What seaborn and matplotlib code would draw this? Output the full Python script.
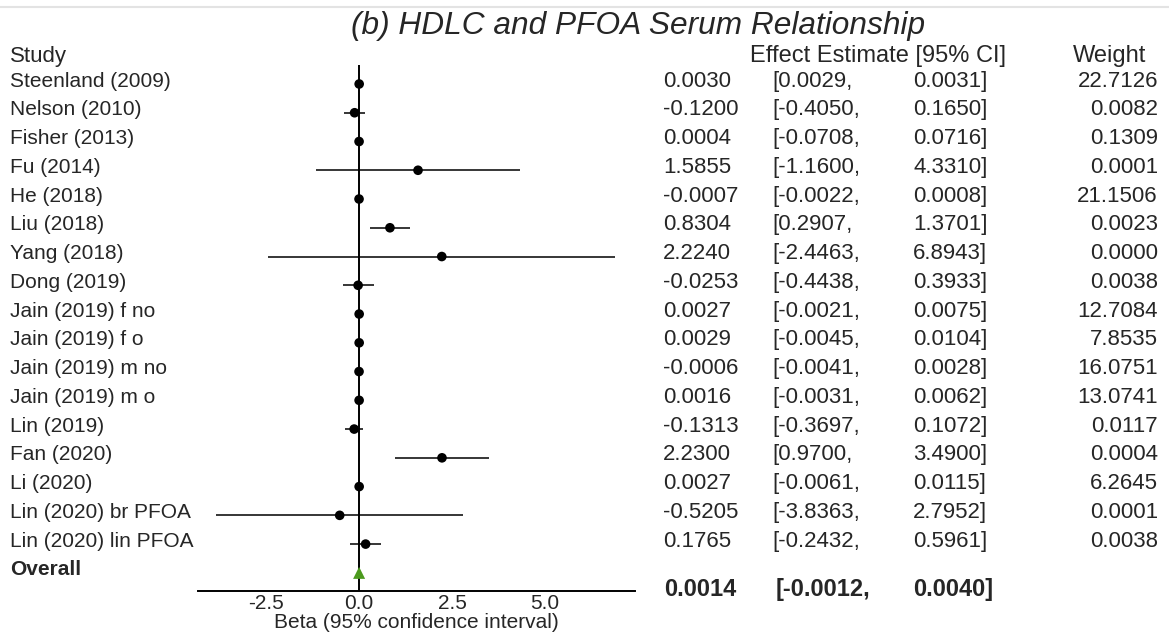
import pandas as pd
import matplotlib.pyplot as plt
import matplotlib.transforms as mtransforms
from matplotlib.lines import Line2D
import seaborn as sns

# data
studies = ['Steenland (2009)', 'Nelson (2010)', 'Fisher (2013)', 'Fu (2014)', 'He (2018)',
           'Liu (2018)', 'Yang (2018)', 'Dong (2019)', 'Jain (2019) f no', 'Jain (2019) f o',
           'Jain (2019) m no', 'Jain (2019) m o', 'Lin (2019)', 'Fan (2020)', 'Li (2020)',
           'Lin (2020) br PFOA', 'Lin (2020) lin PFOA']
est = [0.0030, -0.1200, 0.0004, 1.5855, -0.0007, 0.8304, 2.2240, -0.0253, 0.0027, 0.0029,
       -0.0006, 0.0016, -0.1313, 2.2300, 0.0027, -0.5205, 0.1765]
lower = [0.0029, -0.4050, -0.0708, -1.1600, -0.0022, 0.2907, -2.4463, -0.4438, -0.0021, -0.0045,
         -0.0041, -0.0031, -0.3697, 0.9700, -0.0061, -3.8363, -0.2432]
upper = [0.0031, 0.1650, 0.0716, 4.3310, 0.0008, 1.3701, 6.8943, 0.3933, 0.0075, 0.0104,
         0.0028, 0.0062, 0.1072, 3.4900, 0.0115, 2.7952, 0.5961]
weight = [22.7126, 0.0082, 0.1309, 0.0001, 21.1506, 0.0023, 0.0000, 0.0038, 12.7084, 7.8535,
          16.0751, 13.0741, 0.0117, 0.0004, 6.2645, 0.0001, 0.0038]
overall_est, overall_lo, overall_hi = 0.0014, -0.0012, 0.0040
x_ticks = [-2.5, 0.0, 2.5, 5.0]

df = pd.DataFrame({'study': studies, 'est': est, 'lo': lower, 'hi': upper, 'w': weight})
df['row'] = range(len(df))
n = len(df)

sns.set_theme(style="white")
plt.rcParams['font.family'] = ['Liberation Sans', 'DejaVu Sans']

fig = plt.figure(figsize=(11.69, 6.33), dpi=100)
ax = fig.add_axes([0.1694, 0.0664, 0.3738, 0.8309])

# confidence intervals + points
ax.hlines(df['row'], df['lo'], df['hi'], color='black', linewidth=1.1, zorder=2)
sns.scatterplot(data=df, x='est', y='row', color='black', s=48, edgecolor='none', ax=ax, zorder=3)
sns.scatterplot(x=[overall_est], y=[n], marker='^', color='#4c9a1e', s=75, edgecolor='none',
                ax=ax, zorder=3)
ax.axvline(0, color='black', linewidth=1.4, zorder=1)

ax.set_xlim(-4.33, 7.42)
ax.set_ylim(17.63, -0.66)
ax.set_xticks(x_ticks)
ax.set_xticklabels([f'{t:.1f}' for t in x_ticks], fontsize=15)
ax.set_yticks([])
ax.tick_params(axis='x', length=0, pad=2)
ax.set_xlabel('Beta (95% confidence interval)', fontsize=15, labelpad=0)
ax.set_ylabel('')
for s in ['top', 'left', 'right']:
    ax.spines[s].set_visible(False)
ax.spines['bottom'].set_color('black')
ax.spines['bottom'].set_linewidth(1.4)

# table text: x in figure fraction, y in data rows
tr = mtransforms.blended_transform_factory(fig.transFigure, ax.transData)
W = 1169.0
fs = 15        # study labels
fs_num = 16    # table numbers
fs_head = 17   # column headers
ax.text(10 / W, -0.94, 'Study', transform=tr, fontsize=16, va='center', ha='left',
        clip_on=False)
ax.text(1006 / W, -0.97, 'Effect Estimate [95% CI]', transform=tr, fontsize=fs_head,
        va='center', ha='right', clip_on=False)
ax.text(1073 / W, -0.99, 'Weight', transform=tr, fontsize=fs_head, va='center', ha='left',
        clip_on=False)

for i, r in df.iterrows():
    y = r['row'] - 0.1
    ax.text(10 / W, y, r['study'], transform=tr, fontsize=fs, va='center', ha='left')
    ax.text(663 / W, y, f"{r['est']:.4f}", transform=tr, fontsize=fs_num, va='center', ha='left')
    ax.text(772 / W, y, f"[{r['lo']:.4f},", transform=tr, fontsize=fs_num, va='center', ha='left')
    ax.text(913 / W, y, f"{r['hi']:.4f}]", transform=tr, fontsize=fs_num, va='center', ha='left')
    ax.text(1158 / W, y, f"{r['w']:.4f}", transform=tr, fontsize=fs_num, va='center', ha='right')

ax.text(10 / W, n - 0.1, 'Overall', transform=tr, fontsize=fs, va='center', ha='left',
        fontweight='bold')
yo = n + 0.57
ax.text(664 / W, yo, f'{overall_est:.4f}', transform=tr, fontsize=17, va='center', ha='left',
        fontweight='bold')
ax.text(776 / W, yo, f'[{overall_lo:.4f},', transform=tr, fontsize=17, va='center', ha='left',
        fontweight='bold')
ax.text(913 / W, yo, f'{overall_hi:.4f}]', transform=tr, fontsize=17, va='center', ha='left',
        fontweight='bold')

fig.text(638 / W, 1 - 26 / 633, '(b) HDLC and PFOA Serum Relationship', fontsize=22.8,
         style='italic', ha='center', va='center')
fig.add_artist(Line2D([0, 1], [1 - 7 / 633, 1 - 7 / 633], transform=fig.transFigure,
                      color='#e3e3e3', linewidth=1.5))

fig.savefig('out.png', dpi=100)
